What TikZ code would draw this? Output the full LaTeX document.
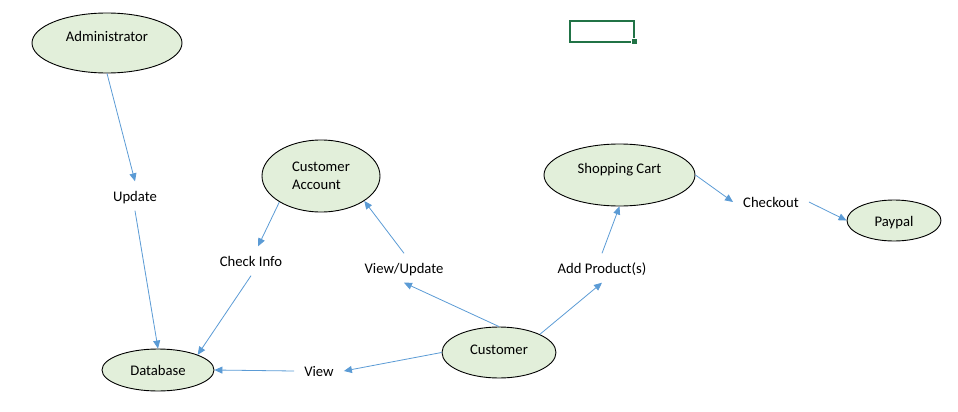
\documentclass[tikz,border=0pt]{standalone}
\usepackage{fontspec}
\setmainfont{Carlito}
\usetikzlibrary{arrows.meta}
\usetikzlibrary{shapes.geometric}
\definecolor{casefill}{HTML}{E2EFDA}
\definecolor{flowblue}{HTML}{5B9BD5}
\definecolor{cellgreen}{HTML}{217346}
\newcommand\diagfont{\fontsize{14.67pt}{17.9pt}\selectfont}
\tikzset{
    use case/.style={
        draw=black,
        line width=0.9pt,
        fill=casefill,
        ellipse,
        inner sep=0pt,
        font=\diagfont,
    },
    raised/.style={
        text height=14pt,
        text depth=#1,
    },
    flow label/.style={
        inner xsep=10pt,
        inner ysep=6pt,
        text height=14pt,
        text depth=3pt,
        font=\diagfont,
    },
    flow arrow/.style={
        draw=flowblue,
        line width=0.8pt,
        -{Triangle[length=8pt,width=7pt]},
    },
}

\begin{document}
\begin{tikzpicture}[x=1pt,y=-1pt]
    \useasboundingbox (0,0) rectangle (958,412);

    % use cases
    \node[use case, raised=17pt, minimum width=150pt, minimum height=60pt] (adm) at (107,43) {Administrator};
    \node[use case, align=left, minimum width=118pt, minimum height=72pt] (ca) at (321,176) {Customer\\Account};
    \node[use case, raised=17pt, minimum width=151pt, minimum height=62pt] (sc) at (619.5,175) {Shopping Cart};
    \node[use case, raised=3pt, minimum width=94pt, minimum height=41pt] (pp) at (894,220.5) {Paypal};
    \node[use case, raised=3pt, minimum width=112pt, minimum height=42pt] (db) at (158,370) {Database};
    \node[use case, raised=11pt, minimum width=114pt, minimum height=51pt] (cust) at (499,352.5) {Customer};

    % actions
    \node[flow label] (upd) at (135,196) {Update};
    \node[flow label] (ci) at (251,261) {Check Info};
    \node[flow label] (vu) at (404,268) {View/Update};
    \node[flow label] (ap) at (602,268) {Add Product(s)};
    \node[flow label] (co) at (771,202) {Checkout};
    \node[flow label] (vw) at (319,371) {View};

    \foreach \from/\to in {adm.south/upd.north, upd.south/db.north,
        ca.212/ci, ci.south/db.21, vu.north/ca.-30, cust.north/vu.south,
        cust.24/ap.south, ap.north/sc.south, sc.east/co.west,
        co.east/pp.west, cust.west/vw.east, vw.west/db.east}
    {
        \draw[flow arrow] (\from) -- (\to);
    }

    % selected cell
    \draw[cellgreen, line width=2pt] (570,21) rectangle (634,42);
    \filldraw[fill=cellgreen, draw=white, line width=0.8pt] (631.5,38.5) rectangle (637.5,44.5);

\end{tikzpicture}
\end{document}
